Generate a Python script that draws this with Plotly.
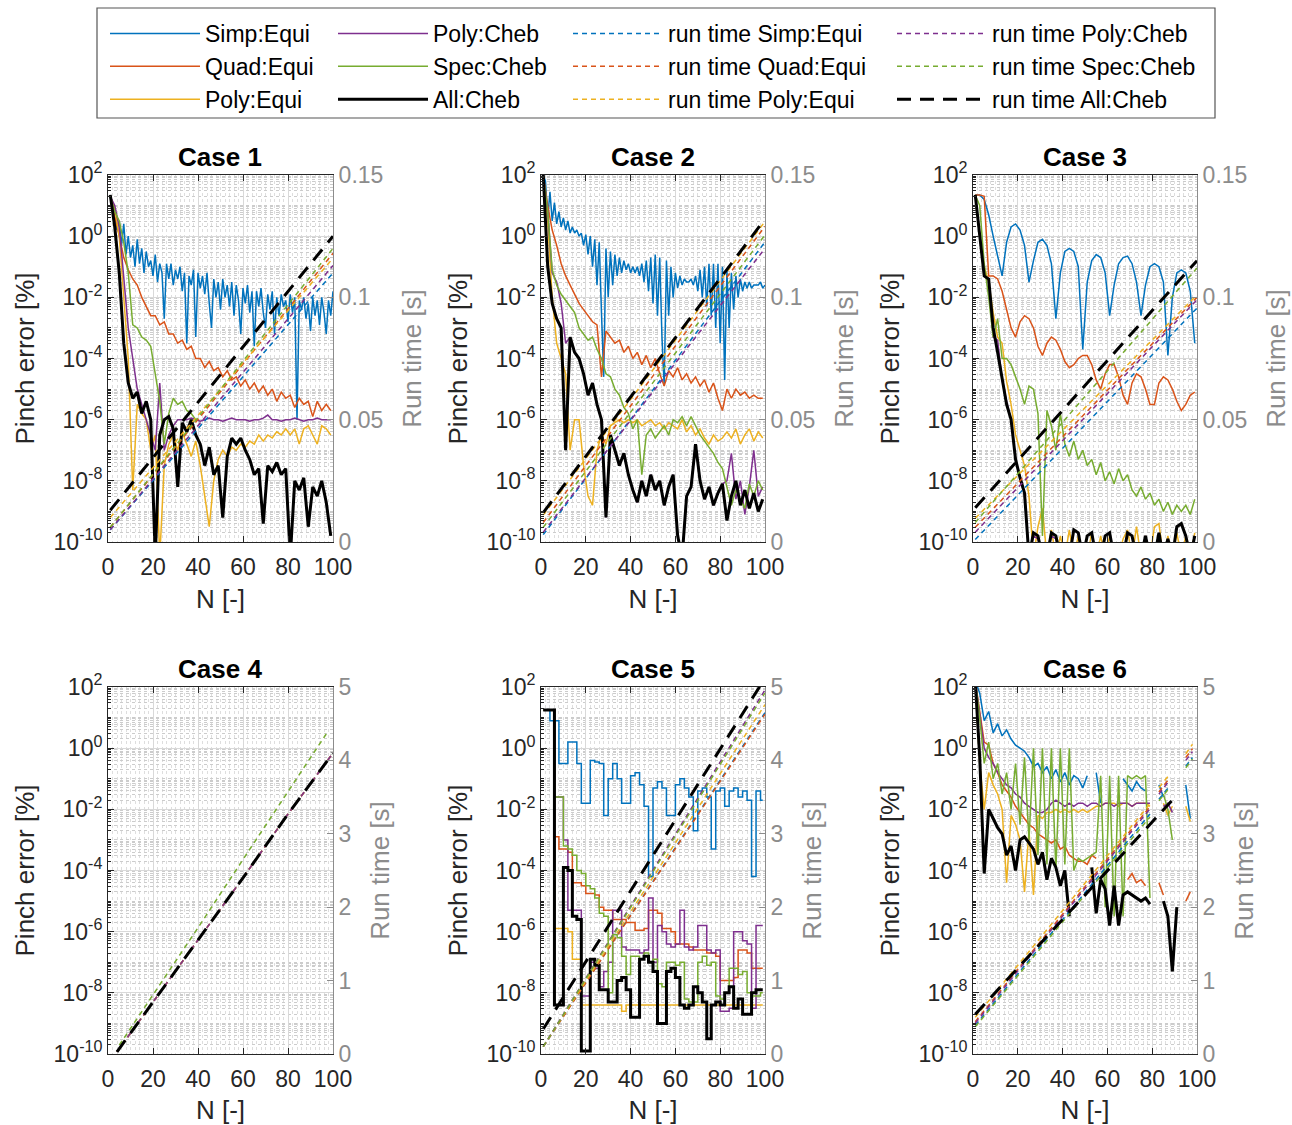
import plotly.graph_objects as go

# ---------------- data (log10 of pinch error [%]) ----------------
N = list(range(1, 100, 2))        # N = 1,3,...,99
N_full = list(range(1, 101))      # N = 1..100 (for the strongly oscillating series)

c1_simp = [1.3, 0.9, 0.6, 0.2, 0.5, -0.3, 0.4, -0.6, 0.0, -0.7,
           -0.3, -1.0, -0.1, -0.9, -0.4, -1.2, -0.5, -1.0, -0.8, -1.3,
           -0.6, -1.5, -0.9, -1.2, -2.7, -0.9, -1.4, -0.9, -1.6, -1.1,
           -1.4, -1.0, -1.8, -1.2, -3.5, -1.3, -1.6, -1.1, -3.3, -1.2,
           -1.7, -1.3, -1.9, -1.2, -2.2, -3.0, -1.4, -2.0, -1.5, -2.4,
           -1.4, -2.0, -1.6, -2.3, -1.5, -2.6, -1.6, -2.1, -3.2, -1.7,
           -2.2, -1.6, -2.5, -1.8, -3.6, -1.8, -2.3, -1.7, -2.5, -3.0,
           -1.9, -2.4, -1.8, -3.2, -2.0, -2.6, -1.9, -2.3, -2.1, -2.8,
           -1.9, -2.5, -2.0, -6.0, -2.1, -2.4, -2.0, -2.7, -2.2, -3.1,
           -2.0, -2.6, -2.1, -2.9, -2.0, -2.5, -3.2, -2.1, -2.6, -1.8]
c1_quad = [1.3, 0.7, 0.0, -0.7, -1.1, -1.4, -1.6, -2.0, -2.3, -2.6,
           -2.6, -2.9, -2.8, -3.2, -3.2, -3.5, -3.4, -3.7, -3.6, -4.0,
           -4.0, -4.3, -4.1, -4.4, -4.3, -4.6, -4.4, -4.7, -4.6, -4.9,
           -4.7, -5.0, -4.8, -5.1, -4.9, -5.2, -5.0, -5.4, -5.1, -5.3,
           -5.2, -5.6, -5.3, -5.5, -5.4, -5.9, -5.4, -5.7, -5.5, -5.7]
c1_polyE = [1.3, 0.9, 0.0, -2.0, -4.0, -8.3, -5.5, -5.8, -6.0, -7.0,
            -6.5, -10.5, -7.5, -6.8, -6.5, -7.0, -6.4, -6.8, -7.2, -6.7,
            -7.5, -8.5, -9.5, -8.0, -7.3, -7.0, -7.2, -6.9, -7.0, -6.8,
            -6.9, -6.7, -6.8, -6.5, -6.7, -6.5, -6.6, -6.4, -6.5, -6.3,
            -6.5, -6.3, -6.8, -6.3, -6.2, -6.5, -6.8, -6.2, -6.3, -6.5]
c1_polyC = [1.3, 1.0, 0.3, -1.5, -3.0, -4.0, -5.0, -5.5, -6.0, -6.5,
            -7.0, -4.8, -7.0, -6.5, -6.2, -6.0, -6.0, -6.0, -5.95, -6.0,
            -6.05, -6.0, -5.95, -6.0, -6.0, -6.05, -6.0, -5.95, -6.0, -6.0,
            -6.0, -6.05, -6.0, -6.0, -5.95, -5.85, -6.0, -6.0, -6.05, -6.0,
            -6.0, -5.95, -6.0, -6.05, -6.0, -6.0, -5.95, -6.0, -6.0, -6.0]
c1_spec = [1.3, 0.8, 0.5, -0.2, -1.2, -2.9, -3.0, -3.3, -3.4, -3.6,
           -4.5, -5.4, -6.8, -5.8, -5.3, -5.5, -5.4, -5.7, -5.8, -6.0] + [None] * 30
c1_all = [1.35, 0.3, -1.2, -3.5, -4.8, -5.3, -5.1, -5.8, -5.4, -6.0,
          -10.5, -6.5, -6.0, -5.9, -6.3, -8.2, -6.1, -6.4, -6.0, -6.5,
          -6.8, -7.5, -6.9, -7.8, -7.5, -9.2, -7.2, -6.6, -6.8, -6.6,
          -7.0, -7.3, -7.8, -7.6, -9.4, -7.5, -7.7, -7.4, -7.8, -7.6,
          -10.5, -8.0, -8.3, -7.9, -9.5, -8.2, -8.5, -8.0, -8.7, -9.8]

c2_simp = [2.0, 1.8, 0.6, 1.45, 0.5, 1.1, 0.4, 0.8, 0.3, 0.6,
           0.2, 0.5, 0.1, 0.3, 0.1, 0.2, 0.0, 0.1, -0.3, 0.05,
           -0.6, 0.0, -1.0, -0.1, -1.6, -0.2, -2.5, -4.6, -0.4, -2.0,
           -0.5, -1.6, -0.6, -1.3, -0.7, -1.2, -0.8, -1.1, -0.9, -1.2,
           -1.0, -1.2, -1.0, -1.3, -0.9, -1.5, -0.8, -1.8, -0.7, -2.2,
           -0.6, -2.6, -0.7, -3.3, -4.9, -0.8, -2.6, -1.0, -2.0, -1.2,
           -1.7, -1.3, -1.6, -1.4, -1.5, -1.5, -1.4, -1.6, -1.3, -1.8,
           -1.1, -2.0, -1.0, -2.3, -0.9, -2.6, -0.9, -3.0, -0.9, -3.5,
           -1.0, -4.7, -1.1, -3.0, -1.2, -2.4, -1.3, -2.0, -1.4, -1.8,
           -1.5, -1.7, -1.5, -1.7, -1.6, -1.6, -1.6, -1.5, -1.7, -1.6]
c2_quad = [2.0, 1.0, 0.2, -0.3, -0.9, -1.3, -1.6, -1.9, -2.2, -2.4,
           -2.6, -2.8, -2.9, -4.6, -3.1, -3.3, -3.5, -3.4, -3.8, -3.6,
           -4.0, -3.8, -4.2, -3.9, -4.3, -4.0, -4.5, -4.9, -4.4, -4.6,
           -4.3, -4.7, -4.5, -4.8, -4.6, -4.9, -4.7, -5.1, -4.8, -5.3,
           -5.7, -5.0, -5.3, -5.0, -5.2, -5.1, -5.3, -5.2, -5.3, -5.3]
c2_polyE = [2.0, 0.5, -2.0, -3.5, -4.0, -4.5, -7.0, -6.0, -6.0, -7.5,
            -8.5, -8.8, -7.0, -6.5, -6.8, -6.2, -6.1, -6.0, -6.1, -6.0,
            -6.1, -6.0, -6.2, -6.1, -6.0, -6.2, -6.1, -6.3, -6.1, -6.2,
            -6.3, -6.0, -6.4, -6.2, -6.5, -6.3, -6.6, -6.8, -6.5, -6.7,
            -6.6, -6.4, -6.6, -6.3, -6.8, -6.5, -6.3, -6.7, -6.4, -6.6]
c2_polyC = [2.0, 0.8, -1.2, -1.5, -2.2, -3.5, -3.3, -3.8, -4.0, -4.5,
            -5.2, -4.8, -5.5, -6.0, -9.2, -6.5, -7.0, -7.5, -7.1, -7.8,
            -8.3, -8.7, -8.0, -8.5, -7.8, -8.3, -8.0, -8.8, -8.2, -7.8,
            -9.8, -10.5, -8.5, -8.2, -6.8, -8.0, -8.6, -8.2, -8.8, -8.4,
            -8.1, -8.0, -7.1, -8.6, -8.0, -9.1, -8.2, -7.0, -8.5, -8.2]
c2_spec = [2.0, 0.8, -1.1, -1.6, -1.9, -2.1, -2.3, -2.5, -3.0, -3.2,
           -3.4, -3.3, -3.7, -4.0, -4.5, -4.6, -5.0, -5.2, -5.6, -5.8,
           -6.3, -6.0, -7.8, -6.5, -6.3, -6.6, -6.4, -6.2, -6.5, -6.0,
           -6.1, -5.9, -6.2, -5.9, -6.2, -6.5, -6.7, -6.9, -7.1, -7.4,
           -7.6, -8.2, -8.8, -8.3, -8.6, -8.9, -8.1, -8.5, -8.0, -8.3]
c2_all = [2.0, -1.0, -2.2, -2.7, -3.0, -7.0, -3.3, -3.8, -4.0, -4.5,
          -5.2, -4.8, -5.5, -6.0, -9.2, -6.5, -7.0, -7.5, -7.1, -7.8,
          -8.3, -8.7, -8.0, -8.5, -7.8, -8.3, -8.0, -8.8, -8.2, -7.8,
          -9.8, -10.5, -8.5, -8.2, -6.8, -8.0, -8.6, -8.2, -8.8, -8.4,
          -8.1, -9.3, -8.5, -8.0, -8.8, -8.3, -8.9, -8.4, -9.0, -8.6]

c3_simp = [1.35, 1.35, 1.2, 0.7, 0.0, -0.6, -1.3, -0.2, 0.3, 0.4,
           0.2, -0.3, -1.5, -0.8, -0.2, -0.1, -0.3, -0.9, -2.7, -1.2,
           -0.5, -0.4, -0.5, -1.0, -3.7, -1.5, -0.8, -0.6, -0.7, -1.2,
           -2.6, -1.6, -0.9, -0.7, -0.65, -0.9, -1.5, -2.6, -1.6, -1.0,
           -0.9, -1.0, -1.5, -3.9, -2.0, -1.2, -1.1, -1.2, -1.8, -3.5]
c3_quad = [1.35, 1.35, 1.3, -1.3, -1.3, -1.4, -1.8, -2.4, -3.0, -3.3,
           -2.8, -2.6, -2.7, -3.0, -3.6, -3.9, -3.5, -3.3, -3.4, -3.7,
           -4.1, -4.3, -4.2, -4.0, -3.9, -3.9, -4.2, -4.7, -5.0, -4.5,
           -4.2, -4.2, -4.6, -5.2, -5.5, -4.8, -4.5, -4.6, -5.0, -5.5,
           -5.5, -4.8, -4.6, -4.7, -5.0, -5.4, -5.7, -5.5, -5.2, -5.1]
c3_polyE = [1.35, 0.0, -1.0, -1.5, -2.5, -3.3, -3.5, -4.75, -5.5, -6.5,
            -7.0, -7.5, -8.5, -10.5, -9.5, -8.9, -10.5, -9.6, -10.5, -9.8,
            -10.5, -9.6, -10.5, -9.8, -10.5, -10.5, -9.7, -10.5, -9.8, -10.5,
            -9.8, -10.5, -10.5, -9.9, -9.6, -10.5, -9.5, -10.5, -9.8, -10.5,
            -9.5, -9.4, -10.5, -9.8, -10.5, -9.7, -10.5, -9.8, -10.5, -9.7]
c3_polyC = [1.35, 0.0, -1.3, -1.4, -3.3, -3.4, -4.7, -5.4, -6.0, -7.3,
            -7.9, -8.4, -10.5, -9.8, -9.9, -10.5, -10.5, -9.8, -9.9, -10.5,
            -10.5, -10.5, -9.6, -9.7, -10.5, -9.8, -9.7, -10.5, -10.5, -9.8,
            -9.7, -10.5, -10.5, -10.5, -9.7, -9.8, -10.5, -10.5, -9.8, -10.5,
            -10.5, -9.7, -10.5, -9.9, -10.5, -9.5, -9.4, -9.8, -10.5, -9.8]
c3_spec = [1.35, 1.0, -0.9, -2.0, -3.3, -2.7, -4.0, -4.0, -4.2, -4.6,
           -5.0, -5.5, -4.9, -5.0, -5.8, -9.8, -5.7, -6.2, -7.0, -5.8,
           -6.8, -7.2, -6.7, -7.3, -7.0, -7.5, -7.3, -7.8, -7.4, -8.0,
           -7.7, -8.1, -7.6, -8.0, -7.8, -8.3, -8.5, -8.2, -8.6, -8.4,
           -8.8, -8.6, -9.0, -8.7, -9.1, -8.8, -9.0, -8.8, -9.1, -8.6]
c3_all = [1.35, 0.0, -1.3, -1.4, -3.0, -3.8, -4.7, -5.5, -6.0, -7.3,
          -7.9, -8.4, -10.5, -9.7, -9.8, -10.5, -10.5, -9.7, -9.8, -10.5,
          -10.5, -10.5, -9.6, -9.7, -10.5, -9.8, -9.7, -10.5, -10.5, -9.8,
          -9.7, -10.5, -10.5, -10.5, -9.7, -9.8, -10.5, -10.5, -9.8, -10.5,
          -10.5, -9.7, -10.5, -9.9, -10.5, -9.5, -9.4, -9.8, -10.5, -9.8]

# Case 4: no pinch-error value falls inside the plotted range
c4_empty = []

c5_simp = [1.25, 1.25, 0.9, 0.9, -0.5, -0.5, 0.2, 0.2, -0.5, -1.8,
           -1.8, -0.4, -0.45, -0.5, -2.2, -1.0, -0.5, -1.0, -1.8, -1.8,
           -0.9, -0.8, -1.2, -1.9, -4.2, -1.3, -1.1, -1.3, -2.2, -2.2,
           -1.2, -1.0, -1.3, -1.6, -2.7, -1.4, -1.3, -1.6, -3.3, -1.4,
           -1.3, -1.9, -1.4, -1.3, -1.6, -1.4, -1.7, -4.2, -1.4, -1.7]
c5_quad = [1.25, 1.25, 1.25, -2.9, -3.3, -3.3, -3.4, -4.4, -4.4, -4.5,
           -4.75, -4.75, -4.8, -5.2, -5.3, -5.3, -5.6, -5.6, -5.6, -5.7,
           -5.7, -5.95, -5.95, -5.9, -5.3, -5.3, -5.4, -5.9, -5.9, -6.0,
           -6.4, -6.4, -6.4, -6.5, -6.6, -6.6, -6.6, -6.7, -6.7, -6.8,
           -7.6, -7.6, -7.6, -7.5, -6.6, -6.6, -6.7, -7.2, -7.2, -7.2]
c5_polyE = [1.25, 1.25, 1.25, -5.9, -5.9, -5.9, -6.0, -6.9, -6.9, -8.4,
            -8.4, -8.4, -8.4, -8.4, -8.4, -8.4, -8.4, -8.4, -8.6, -8.4,
            -8.4, -8.4, -8.4, -8.4, -8.4, -8.4, -8.4, -8.4, -8.4, -8.4,
            -8.4, -8.4, -8.4, -8.4, -8.4, -8.4, -8.4, -8.4, -8.4, -8.4,
            -8.4, -8.4, -8.4, -8.4, -8.4, -8.4, -8.4, -8.4, -8.4, -8.4]
c5_polyC = [1.25, 1.25, 1.25, -1.6, -1.6, -3.0, -5.3, -5.3, -5.3, -8.1,
            -8.1, -7.0, -7.2, -7.8, -7.3, -7.0, -5.3, -5.3, -6.5, -6.6,
            -6.6, -6.6, -6.7, -6.6, -4.9, -7.0, -5.8, -6.0, -6.4, -6.5,
            -6.4, -5.3, -6.5, -6.6, -6.5, -5.8, -5.8, -6.6, -6.7, -6.6,
            -8.6, -8.6, -8.5, -6.0, -6.0, -6.3, -6.4, -8.5, -5.8, -5.8]
c5_spec = [1.25, 1.25, 1.25, -1.6, -1.6, -3.2, -3.3, -3.5, -4.0, -4.1,
           -4.5, -4.6, -4.9, -5.4, -5.5, -8.0, -6.1, -6.2, -6.8, -7.4,
           -6.8, -6.8, -6.9, -6.7, -7.0, -6.9, -7.7, -7.8, -7.0, -7.0,
           -7.1, -7.0, -8.2, -8.3, -8.3, -7.0, -6.8, -7.1, -7.0, -8.1,
           -8.2, -8.0, -7.2, -7.2, -7.4, -7.3, -8.0, -8.1, -8.1, -8.0]
c5_all = [1.25, 1.25, 1.25, -8.4, -8.4, -3.9, -4.0, -5.5, -5.6, -9.9,
          -9.9, -6.9, -7.1, -7.9, -7.9, -8.3, -8.3, -7.6, -7.5, -7.9,
          -8.8, -8.8, -6.9, -6.8, -7.0, -7.3, -9.0, -9.0, -7.3, -7.2,
          -7.5, -8.4, -8.5, -8.4, -7.8, -8.0, -8.3, -9.5, -8.4, -8.3,
          -8.4, -8.0, -7.8, -8.5, -8.2, -8.7, -8.7, -8.0, -7.9, -7.9]

c6_simp = [2.2, 1.8, 0.9, 1.2, 0.5, 0.8, 0.4, 0.6, 0.3, 0.1,
           0.0, -0.1, -0.3, -0.6, -0.5, -0.8, -0.6, -1.0, -0.7, -1.1,
           -0.8, -1.2, -0.9, -1.0, -1.3, -0.9, None, -0.8, -1.8, None,
           None, None, None, -1.0, -1.2, -1.4, -1.1, -1.3, -1.4, None,
           None, -1.2, -1.6, None, None, None, None, -1.2, -2.3, None]
c6_quad = [2.2, 1.2, 0.2, 0.1, -0.5, -0.8, -1.2, -1.4, -1.6, -1.9,
           -2.1, -2.3, -2.5, -2.6, -2.8, -2.9, -3.0, -3.1, -3.0, -3.3,
           -3.2, -3.5, -3.6, -3.7, -3.7, -3.8, -3.5, -3.6, None, None,
           None, None, None, None, -4.3, -4.1, -4.4, -4.3, -4.5, None,
           None, -4.4, -4.8, None, None, None, None, -5.0, -4.7, None]
c6_polyE = [2.2, -0.5, -2.0, -0.8, -1.2, -1.5, -2.0, -4.4, -2.2, -2.5,
            -3.0, -4.7, -2.7, -4.8, -2.2, -2.3, -2.1, -2.1, -2.0, -2.1,
            -2.0, -2.1, -2.0, -2.1, -2.0, -2.1, -2.0, -1.9, -1.9, -1.8,
            -1.8, -1.8, -1.9, -1.8, -1.8, -1.9, -1.8, -1.8, -1.8, -1.9,
            None, None, -1.8, -2.2, -1.9, None, None, -1.9, -2.4, None]
c6_polyC = [2.2, 1.0, 0.0, -0.3, -0.5, -0.8, -1.0, -1.2, -1.3, -1.5,
            -1.6, -1.8, -1.9, -2.0, -2.1, -2.1, -2.0, -1.8, -1.7, -1.8,
            -1.9, -1.8, -1.9, -1.8, -1.8, -1.9, -1.8, -1.8, -1.9, -1.8,
            -1.8, -1.9, -1.8, -1.8, -1.8, -1.9, -1.8, -1.8, -1.8, -1.8,
            None, None, -1.9, -1.8, -2.1, None, None, None, None, None]
c6_spec = [2.2, 1.0, -0.5, 0.2, -1.0, -0.5, -1.5, -0.8, -2.0, -0.5,
           -2.5, -0.3, -3.0, 0.0, -3.5, 0.0, -3.8, 0.0, -4.0, 0.0,
           -3.8, 0.0, -4.0, -3.6, -3.7, -3.6, -3.5, -3.4, -0.9, -5.2,
           -0.9, -5.5, -0.9, -5.5, -0.9, -1.0, -0.9, -1.0, -0.9, -4.9,
           None, None, -1.5, -2.0, -3.0, None, None, None, None, None]
c6_all = [2.2, -0.3, -4.1, -2.0, -2.3, -2.6, -2.8, -3.5, -3.2, -4.0,
          -3.0, -2.9, -3.1, -3.3, -3.8, -3.4, -4.3, -3.6, -3.9, -4.5,
          -4.0, -5.5, None, None, None, None, -3.9, -5.4, -4.3, -4.6,
          -5.8, -4.5, -5.8, -4.8, -4.7, -4.8, -4.9, -5.0, -4.9, -5.1,
          None, None, -5.0, -5.5, -7.3, -5.2, None, None, None, None]

# ---------------- run time data [s] ----------------
rt_N = [1, 100]
c1_rt = [[0.005, 0.110], [0.006, 0.118], [0.010, 0.116], [0.005, 0.113], [0.006, 0.120], [0.013, 0.125]]
c2_rt = [[0.003, 0.1226], [0.008, 0.129], [0.011, 0.131], [0.004, 0.120], [0.006, 0.1255], [0.012, 0.132]]
c3_rt = [[0.001, 0.0956], [0.006, 0.100], [0.0097, 0.101], [0.004, 0.099], [0.008, 0.112], [0.014, 0.115]]
rt4_N = [4, 20, 40, 60, 80, 100]
rt4_N_spec = [5, 20, 40, 60, 80, 97]
c4_rt_main = [0.03, 0.71, 1.56, 2.40, 3.27, 4.10]
c4_rt_spec = [0.12, 0.80, 1.72, 2.65, 3.57, 4.36]
c5_rt = [[0.10, 4.65], [0.10, 4.63], [0.10, 4.76], [0.10, 4.96], [0.10, 4.92], [0.34, 5.12]]
rt6_N = [1, 79, 80, 83, 87, 88, 95, 98]
rt6_N_all = [1, 89]
c6_rt = [[0.39, 3.27, None, 3.47, 3.62, None, 3.92, 4.04],
         [0.44, 3.37, None, 3.57, 3.73, None, 4.04, 4.16],
         [0.50, 3.41, None, 3.63, 3.78, None, 4.09, 4.22],
         [0.42, 3.34, None, 3.54, 3.70, None, 4.00, 4.12],
         [0.37, 3.23, None, 3.45, 3.60, None, 3.90, 4.02],
         [0.54, 3.46]]

names = ['Simp:Equi', 'Quad:Equi', 'Poly:Equi', 'Poly:Cheb', 'Spec:Cheb', 'All:Cheb']
colors = ['#0072BD', '#D95319', '#EDB120', '#7E2F8E', '#77AC30', '#000000']
x_ticks = [0, 20, 40, 60, 80, 100]
y_tick_exp = [-10, -8, -6, -4, -2, 0, 2]
y_ticktext = ['10<sup>' + str(e) + '</sup>' for e in y_tick_exp]
rt_ranges = [[0, 0.15]] * 3 + [[0, 5]] * 3
rt_tickvals = [[0, 0.05, 0.1, 0.15]] * 3 + [[0, 1, 2, 3, 4, 5]] * 3
rt_ticktext = [['0', '0.05', '0.1', '0.15']] * 3 + [['0', '1', '2', '3', '4', '5']] * 3

err_sets = {1: [c1_simp, c1_quad, c1_polyE, c1_polyC, c1_spec, c1_all],
            2: [c2_simp, c2_quad, c2_polyE, c2_polyC, c2_spec, c2_all],
            3: [c3_simp, c3_quad, c3_polyE, c3_polyC, c3_spec, c3_all],
            4: [c4_empty] * 6,
            5: [c5_simp, c5_quad, c5_polyE, c5_polyC, c5_spec, c5_all],
            6: [c6_simp, c6_quad, c6_polyE, c6_polyC, c6_spec, c6_all]}

rt_sets = {}
for case, vals in ((1, c1_rt), (2, c2_rt), (3, c3_rt), (5, c5_rt)):
    rt_sets[case] = [(rt_N, v) for v in vals]
rt_sets[4] = [(rt4_N, c4_rt_main), (rt4_N, c4_rt_main), (rt4_N, c4_rt_main),
              (rt4_N, c4_rt_main), (rt4_N_spec, c4_rt_spec), (rt4_N, c4_rt_main)]
rt_sets[6] = [(rt6_N, v) for v in c6_rt[:5]] + [(rt6_N_all, c6_rt[5])]

# ---------------- layout geometry ----------------
W, H, OFF = 1292, 1125, 0
def dx(px):
    return (px - OFF) / W
def dy(py):
    return 1 - (py - OFF) / H

cols = [(108, 333), (541, 765), (973, 1197)]
rows = [(175, 542), (687, 1054)]

FONT = 'Liberation Sans, Arial, sans-serif'
DARK = '#262626'
GRAY = '#8c8c8c'

fig = go.Figure()

minor_y = []
for e in range(-10, 2):
    for m in range(1, 10):
        if m == 1 and e % 2 == 0:
            continue
        minor_y.append(m * 10.0 ** e)

layout = dict(width=W, height=H, margin=dict(l=0, r=0, t=0, b=0), template='none',
              plot_bgcolor='white', paper_bgcolor='white',
              font=dict(family=FONT, size=23, color=DARK))

annotations = []
for i in range(6):
    r, c = divmod(i, 3)
    k = '' if i == 0 else str(i + 1)
    layout['xaxis' + k] = dict(
        domain=[dx(cols[c][0]), dx(cols[c][1])], anchor='y' + k, range=[0, 100],
        tickmode='array', tickvals=x_ticks, ticks='inside', ticklen=6, tickcolor=DARK,
        showline=True, linecolor=DARK, linewidth=1, mirror='ticks',
        showgrid=True, gridcolor='#d9d9d9', gridwidth=1, zeroline=False,
        minor=dict(dtick=2, showgrid=True, gridcolor='#dedede', griddash='dot', ticks=''),
        title=dict(text='N [-]', font=dict(size=26), standoff=11),
        tickfont=dict(size=23), ticklabelstandoff=4, automargin=False)
    layout['yaxis' + k] = dict(
        domain=[dy(rows[r][1]), dy(rows[r][0])], anchor='x' + k, type='log', range=[-10, 2],
        tickmode='array', tickvals=[10.0 ** e for e in y_tick_exp], ticktext=y_ticktext,
        ticks='inside', ticklen=6, tickcolor=DARK,
        showline=True, linecolor=DARK, linewidth=1, mirror=False,
        showgrid=True, gridcolor='#d9d9d9', gridwidth=1, zeroline=False,
        minor=dict(tickmode='array', tickvals=minor_y, showgrid=True, gridcolor='#cccccc',
                   griddash='dot', ticks='inside', ticklen=3, tickcolor=DARK),
        title=dict(text='Pinch error [%]', font=dict(size=26), standoff=11),
        tickfont=dict(size=23), automargin=False)
    layout['yaxis' + str(i + 7)] = dict(
        overlaying='y' + k, anchor='x' + k, side='right', range=rt_ranges[i],
        tickmode='array', tickvals=rt_tickvals[i], ticktext=rt_ticktext[i],
        ticks='inside', ticklen=6, tickcolor=GRAY,
        showline=True, linecolor=GRAY, linewidth=1, showgrid=False, zeroline=False,
        tickfont=dict(size=23, color=GRAY),
        title=dict(text='Run time [s]', font=dict(size=26, color=GRAY), standoff=20),
        automargin=False)
    annotations.append(dict(text='<b>Case %d</b>' % (i + 1), xref='paper', yref='paper',
                            x=(dx(cols[c][0]) + dx(cols[c][1])) / 2, y=dy(rows[r][0]),
                            xanchor='center', yanchor='bottom', yshift=1, showarrow=False,
                            font=dict(size=26, color='#000000', family=FONT)))

legend_ids = ['legend', 'legend2', 'legend3', 'legend4']

for i in range(6):
    case = i + 1
    k = '' if i == 0 else str(i + 1)
    for j, series in enumerate(err_sets[case]):
        yv = [None if v is None else 10.0 ** v for v in series]
        xv = N_full if len(yv) == len(N_full) else N[:len(yv)]
        fig.add_trace(go.Scatter(
            x=xv, y=yv, mode='lines', name=names[j],
            line=dict(color=colors[j], width=3 if j == 5 else 1.5,
                      shape='hvh' if case == 5 else 'linear'),
            xaxis='x' + k, yaxis='y' + k, showlegend=(case == 1),
            legend=legend_ids[0] if j < 3 else legend_ids[1],
            legendrank=j, connectgaps=False))
    for j, (nx, vals) in enumerate(rt_sets[case]):
        fig.add_trace(go.Scatter(
            x=nx, y=vals, mode='lines', name='run time ' + names[j],
            line=dict(color=colors[j], width=3 if j == 5 else 1.5,
                      dash='14px,9px' if j == 5 else '5px,4px'),
            xaxis='x' + k, yaxis='y' + str(i + 7), showlegend=(case == 1),
            legend=legend_ids[2] if j < 3 else legend_ids[3],
            legendrank=j, connectgaps=False))

leg_text_x = [205, 433, 668, 992]
for li, lid in enumerate(legend_ids):
    layout[lid] = dict(x=dx(leg_text_x[li] - 100), y=dy(12), xanchor='left', yanchor='top',
                       orientation='v', bgcolor='rgba(0,0,0,0)', borderwidth=0, itemwidth=90,
                       font=dict(size=23, color='#000000', family=FONT), tracegroupgap=0,
                       itemclick=False, itemdoubleclick=False)

layout['annotations'] = annotations
layout['shapes'] = [dict(type='rect', xref='paper', yref='paper',
                         x0=dx(97), x1=dx(1215), y0=dy(118), y1=dy(8),
                         line=dict(color='#555555', width=1.2))]
fig.update_layout(**layout)
fig.write_html('out.html', config={'displayModeBar': False},
               post_script="document.body.style.margin='0px';document.body.style.overflow='hidden';")
